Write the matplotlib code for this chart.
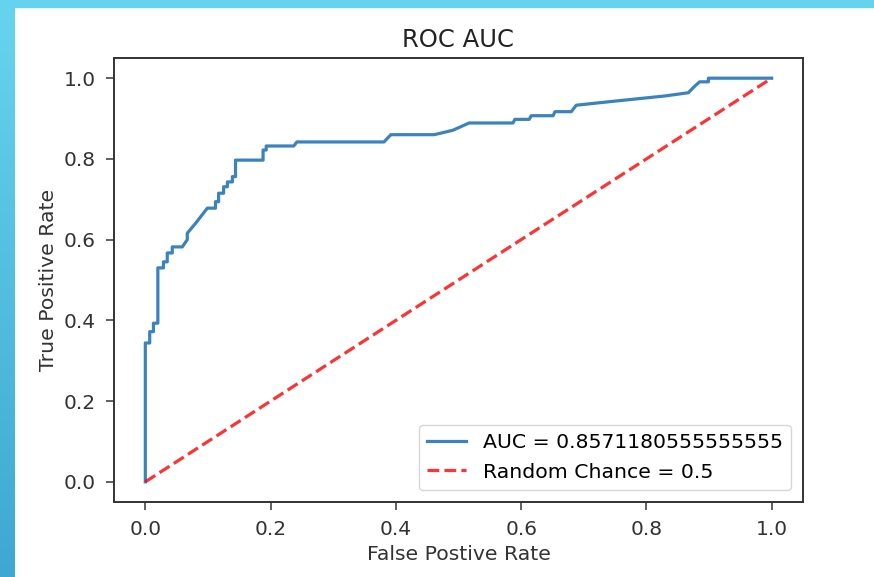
import numpy as np
import matplotlib.pyplot as plt
from matplotlib.patches import Rectangle
from matplotlib.colors import LinearSegmentedColormap

# ROC curve
fpr = [0.0, 0.0, 0.007, 0.007, 0.013, 0.013, 0.020, 0.020, 0.029, 0.029, 0.035, 0.035,
       0.043, 0.043, 0.059, 0.067, 0.067, 0.080, 0.090, 0.099, 0.112, 0.112, 0.117,
       0.117, 0.125, 0.125, 0.131, 0.131, 0.139, 0.139, 0.144, 0.144, 0.188, 0.188,
       0.193, 0.193, 0.237, 0.242, 0.381, 0.392, 0.461, 0.475, 0.491, 0.517, 0.587,
       0.590, 0.613, 0.616, 0.651, 0.654, 0.680, 0.688, 0.730, 0.780, 0.830, 0.867,
       0.877, 0.885, 0.899, 0.899, 1.0]
tpr = [0.0, 0.344, 0.344, 0.372, 0.372, 0.393, 0.393, 0.530, 0.530, 0.545, 0.545, 0.567,
       0.567, 0.582, 0.582, 0.600, 0.616, 0.640, 0.660, 0.678, 0.678, 0.694, 0.694,
       0.715, 0.715, 0.731, 0.731, 0.743, 0.743, 0.756, 0.756, 0.797, 0.797, 0.822,
       0.822, 0.832, 0.832, 0.842, 0.842, 0.860, 0.860, 0.865, 0.871, 0.889, 0.889,
       0.898, 0.898, 0.907, 0.907, 0.917, 0.917, 0.933, 0.940, 0.948, 0.956, 0.964,
       0.980, 0.991, 0.991, 1.0, 1.0]
auc_label = 'AUC = 0.8571180555555555'
chance_x = [0, 1]
chance_y = [0, 1]
chance_label = 'Random Chance = 0.5'

fig = plt.figure(figsize=(8.74, 5.77), dpi=100)

# slide border: cyan strip on top, gradient strip on the left
fig.patches.append(Rectangle((0, 1 - 7/577), 1, 7/577, transform=fig.transFigure,
                             color='#66d3ee', zorder=0))
band = fig.add_axes([0, 0, 15/874, 1])
grad = np.linspace(0, 1, 256).reshape(-1, 1)
cm = LinearSegmentedColormap.from_list('b', ['#67d4ef', '#3ea8d1'])
band.imshow(grad, aspect='auto', cmap=cm, extent=[0, 1, 0, 1], origin='upper')
band.axis('off')

ax = fig.add_axes([114/874, 1 - 502/577, (803 - 114)/874, (502 - 58)/577])
ax.plot(fpr, tpr, color='#3b83bd', lw=2.3, label=auc_label)
ax.plot(chance_x, chance_y, 'r--', lw=2.3, alpha=0.8, label=chance_label)
ax.set_title('ROC AUC', fontsize=17.5, color='#222222', pad=8)
ax.set_xlabel('False Postive Rate', fontsize=14.7, color='#333333')
ax.set_ylabel('True Positive Rate', fontsize=14.7, color='#333333')
ax.tick_params(labelsize=14.5, labelcolor='#333333', length=6, width=1.2,
               color='#444444', pad=7)
for s in ax.spines.values():
    s.set_linewidth(1.4)
    s.set_color('#333333')
ax.legend(loc='lower right', fontsize=14.7, handlelength=1.9, borderpad=0.4,
          borderaxespad=0.6)

plt.savefig('out.png', dpi=100)
